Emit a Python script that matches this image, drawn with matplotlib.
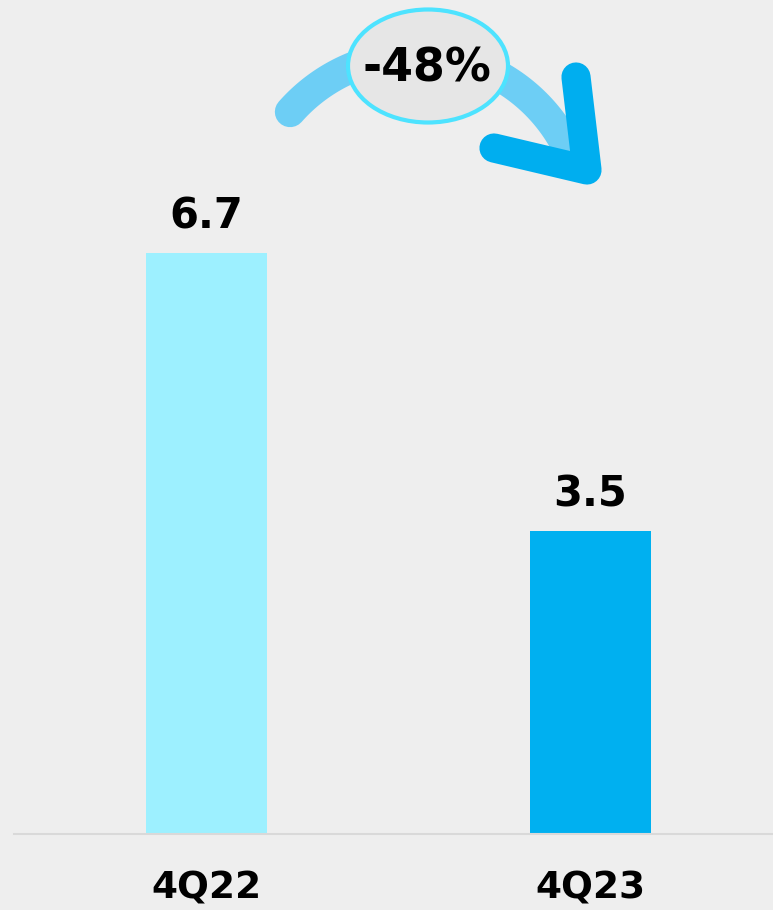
import numpy as np
import matplotlib.pyplot as plt
from matplotlib.patches import Ellipse

quarters = ['4Q22', '4Q23']
values = [6.7, 3.5]
bar_colors = ['#9DF0FF', '#00B0F0']
change_label = '-48%'

bg = '#EEEEEE'

fig = plt.figure(figsize=(7.73, 9.10), dpi=100, facecolor=bg)
ax = fig.add_axes([14 / 773, 76 / 910, 759 / 773, 834 / 910])
ax.set_facecolor(bg)

x = np.arange(len(quarters))
bars = ax.bar(x, values, width=0.315, color=bar_colors, zorder=2)
ax.set_xlim(-0.501, 1.475)
ax.set_ylim(0, 9.62)

for b, v in zip(bars, values):
    ax.annotate(f'{v:.1f}', (b.get_x() + b.get_width() / 2, v),
                xytext=(0, 11), textcoords='offset points',
                ha='center', va='bottom', fontsize=30, fontweight='bold')

ax.set_xticks(x)
ax.set_xticklabels(quarters, fontsize=27, fontweight='bold')
ax.tick_params(axis='x', length=0, pad=26)
ax.set_yticks([])
for s in ['left', 'right', 'top']:
    ax.spines[s].set_visible(False)
ax.spines['bottom'].set_color('#D9D9D9')
ax.spines['bottom'].set_linewidth(1.5)

# overlay in pixel units for the curved arrow and the badge
ov = fig.add_axes([0, 0, 1, 1], facecolor='none')
ov.set_xlim(0, 773)
ov.set_ylim(910, 0)
ov.axis('off')

cx, cy, r = 416.7, 223.1, 168.5
t = np.radians(np.linspace(138.7, 26.9, 100))
ov.plot(cx + r * np.cos(t), cy - r * np.sin(t), color='#6DCEF5', lw=22,
        solid_capstyle='round', zorder=3)
ov.plot([576, 587, 494], [77, 170, 148], color='#00AEEF', lw=21,
        solid_capstyle='round', solid_joinstyle='round', zorder=4)

ov.add_patch(Ellipse((428, 66), 160, 113, facecolor='#E6E6E6',
                     edgecolor='#4DE3FF', lw=3, zorder=5))
ov.text(427, 69, change_label, ha='center', va='center', fontsize=33,
        fontweight='bold', zorder=6)

fig.savefig('out.png', dpi=100, facecolor=bg)
